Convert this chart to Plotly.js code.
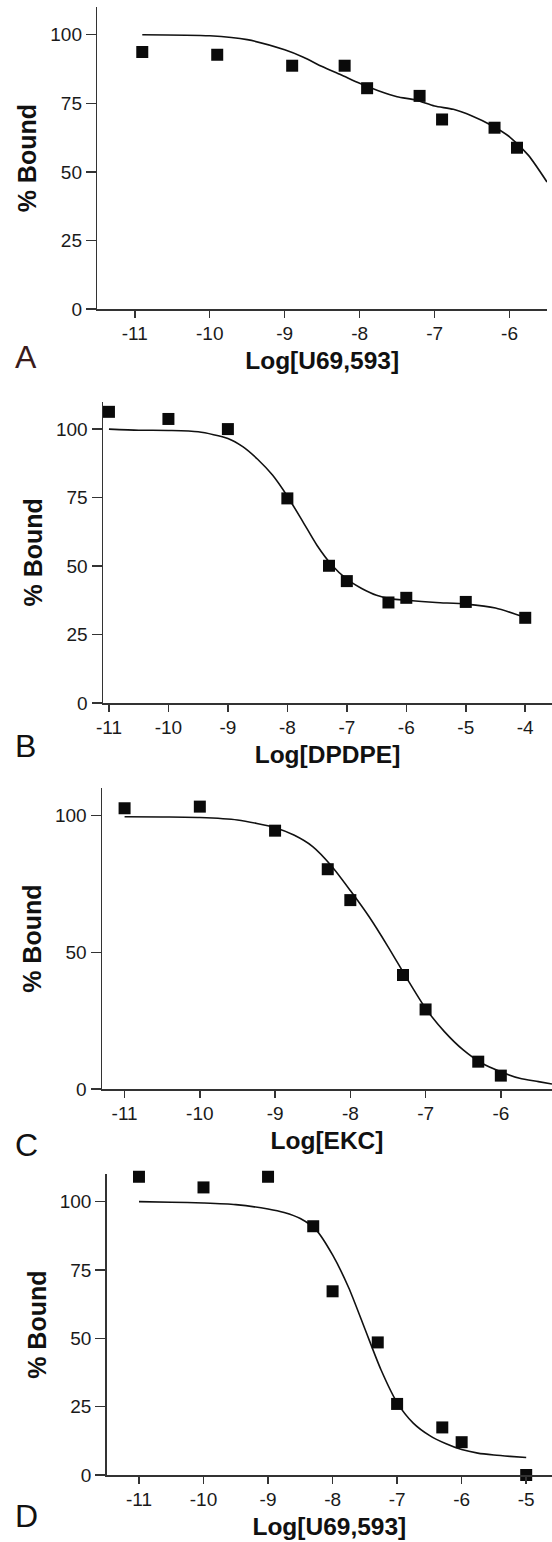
<!DOCTYPE html>
<html>
<head>
<meta charset="utf-8">
<script src="https://cdn.plot.ly/plotly-3.0.1.min.js"></script>
<style>
  html, body { margin: 0; padding: 0; background: #ffffff; }
  #chart { width: 552px; height: 1542px; }
</style>
</head>
<body>
<div id="chart"></div>
<script>
// ---------- Data ----------
// Panel A: Log[U69,593]
const aPointX = [-10.9, -9.9, -8.9, -8.2, -7.9, -7.2, -6.9, -6.2, -5.9];
const aPointY = [93.7, 92.7, 88.7, 88.7, 80.5, 77.7, 69.1, 66.1, 58.8];
const aCurveX = [-10.9, -10, -9.5, -9, -8.75, -8.5, -8.25, -8, -7.75, -7.5, -7.25, -7, -6.75, -6.5, -6.25, -6, -5.75, -5.5];
const aCurveY = [100.0, 99.6, 98.2, 94.5, 91.8, 88.4, 85.4, 82.3, 79.6, 77.4, 76.2, 74.0, 72.8, 70.4, 67.1, 62.8, 56.1, 46.3];

// Panel B: Log[DPDPE]
const bPointX = [-11, -10, -9, -8, -7.3, -7, -6.3, -6, -5, -4];
const bPointY = [106.3, 103.7, 100, 74.7, 50.1, 44.5, 36.7, 38.4, 36.9, 31.1];
const bCurveX = [-11, -10.5, -10, -9.5, -9, -8.75, -8.5, -8.25, -8, -7.75, -7.5, -7.25, -7, -6.75, -6.5, -6.25, -6, -5.5, -5, -4.5, -4];
const bCurveY = [100, 99.6, 99.5, 99.0, 96.6, 93.6, 89.0, 83.2, 75.5, 66.6, 57.5, 50.3, 45.2, 41.8, 39.3, 38.0, 37.5, 36.7, 36.1, 34.7, 31.2];

// Panel C: Log[EKC]
const cPointX = [-11, -10, -9, -8.3, -8, -7.3, -7, -6.3, -6];
const cPointY = [102.7, 103.3, 94.5, 80.4, 69.1, 41.7, 29.1, 10.0, 4.9];
const cCurveX = [-11, -10.5, -10, -9.5, -9, -8.75, -8.5, -8.25, -8, -7.75, -7.5, -7.25, -7, -6.75, -6.5, -6.25, -6, -5.75, -5.5, -5.32];
const cCurveY = [99.6, 99.5, 99.3, 98.4, 95.6, 92.9, 88.7, 81.6, 72.6, 63.0, 52.1, 40.5, 29.5, 21.0, 14.3, 9.4, 6.3, 3.9, 2.7, 1.8];

// Panel D: Log[U69,593]
const dPointX = [-11, -10, -9, -8.3, -8, -7.3, -7, -6.3, -6, -5];
const dPointY = [109.1, 105.2, 109.1, 91.0, 67.2, 48.5, 26.0, 17.4, 12.0, 0];
const dCurveX = [-11, -10.5, -10, -9.5, -9, -8.75, -8.5, -8.25, -8, -7.75, -7.5, -7.25, -7, -6.75, -6.5, -6.25, -6, -5.75, -5.5, -5.25, -5];
const dCurveY = [100, 99.8, 99.5, 98.9, 97.3, 96.0, 93.8, 89.5, 80.5, 68.5, 53.5, 38.5, 26.5, 19.0, 14.5, 11.5, 9.3, 8.0, 7.3, 6.8, 6.4];

// Tick labels
const ticksA = [-11, -10, -9, -8, -7, -6];
const ticksB = [-11, -10, -9, -8, -7, -6, -5, -4];
const ticksC = [-11, -10, -9, -8, -7, -6];
const ticksD = [-11, -10, -9, -8, -7, -6, -5];
const yTicks4 = [0, 25, 50, 75, 100];
const yTicks2 = [0, 50, 100];

const panelLetters = ['A', 'B', 'C', 'D'];
const xTitles = ['Log[U69,593]', 'Log[DPDPE]', 'Log[EKC]', 'Log[U69,593]'];
const yTitle = '% Bound';

// ---------- Layout geometry ----------
const W = 552, H = 1542;
const FONT = 'Liberation Sans, Arial, Helvetica, sans-serif';

function xs(n) { return n === 1 ? 'x' : 'x' + n; }
function ys(n) { return n === 1 ? 'y' : 'y' + n; }

const panels = [
  {px: aPointX, py: aPointY, cx: aCurveX, cy: aCurveY, xr: [-11.5, -5.5], xt: ticksA, yt: yTicks4, left: 97.3, right: 547, top: 7.3, bottom: 309},
  {px: bPointX, py: bPointY, cx: bCurveX, cy: bCurveY, xr: [-11.1, -3.55], xt: ticksB, yt: yTicks4, left: 103, right: 552, top: 401.7, bottom: 703},
  {px: cPointX, py: cPointY, cx: cCurveX, cy: cCurveY, xr: [-11.3, -5.32], xt: ticksC, yt: yTicks2, left: 102, right: 552, top: 788.3, bottom: 1089},
  {px: dPointX, py: dPointY, cx: dCurveX, cy: dCurveY, xr: [-11.5, -4.6], xt: ticksD, yt: yTicks4, left: 106.7, right: 552, top: 1174.3, bottom: 1475}
];
const labelCenters = [357, 746, 1145, 1516];
const labelColors = ['#3a1b1b', '#111111', '#111111', '#111111'];

const traces = [];
const layout = {
  width: W, height: H,
  margin: {l: 0, r: 0, t: 0, b: 0},
  paper_bgcolor: '#ffffff', plot_bgcolor: '#ffffff',
  showlegend: false,
  font: {family: FONT, color: '#1a1a1a'},
  annotations: []
};

panels.forEach((p, i) => {
  const n = i + 1;
  traces.push({
    type: 'scatter', mode: 'lines', x: p.cx, y: p.cy,
    xaxis: xs(n), yaxis: ys(n),
    line: {color: '#111111', width: 1.6, shape: 'spline', smoothing: 0.7},
    hoverinfo: 'skip', cliponaxis: false
  });
  traces.push({
    type: 'scatter', mode: 'markers', x: p.px, y: p.py,
    xaxis: xs(n), yaxis: ys(n),
    marker: {symbol: 'square', size: 12, color: '#0a0a0a', line: {width: 0}},
    cliponaxis: false
  });
  const xa = 'xaxis' + (n === 1 ? '' : n);
  const ya = 'yaxis' + (n === 1 ? '' : n);
  layout[xa] = {
    domain: [p.left / W, p.right / W],
    range: p.xr, anchor: ys(n),
    tickmode: 'array', tickvals: p.xt, ticktext: p.xt.map(v => String(v)),
    showgrid: false, zeroline: false,
    showline: true, linecolor: '#333333', linewidth: 1.5,
    ticks: 'outside', ticklen: 7, tickwidth: 1.5, tickcolor: '#333333',
    tickfont: {family: FONT, size: 19, color: '#1a1a1a'},
    title: {text: '<b>' + xTitles[i] + '</b>', font: {family: FONT, size: 24.5, color: '#111111'}, standoff: 8},
    fixedrange: true
  };
  layout[ya] = {
    domain: [1 - p.bottom / H, 1 - p.top / H],
    range: [0, 110], anchor: xs(n),
    tickmode: 'array', tickvals: p.yt, ticktext: p.yt.map(v => String(v)),
    showgrid: false, zeroline: false,
    showline: true, linecolor: '#333333', linewidth: 1.5,
    ticks: 'outside', ticklen: 10, tickwidth: 1.5, tickcolor: '#333333',
    tickfont: {family: FONT, size: 19, color: '#1a1a1a'},
    title: {text: '<b>' + yTitle + '</b>', font: {family: FONT, size: 25, color: '#111111'}, standoff: 6},
    fixedrange: true
  };
  layout.annotations.push({
    xref: 'paper', yref: 'paper', x: 13 / W, y: 1 - labelCenters[i] / H,
    xanchor: 'left', yanchor: 'middle', showarrow: false,
    text: panelLetters[i], font: {family: FONT, size: 32, color: labelColors[i]}
  });
});

Plotly.newPlot('chart', traces, layout, {staticPlot: true, displayModeBar: false});
</script>
</body>
</html>
